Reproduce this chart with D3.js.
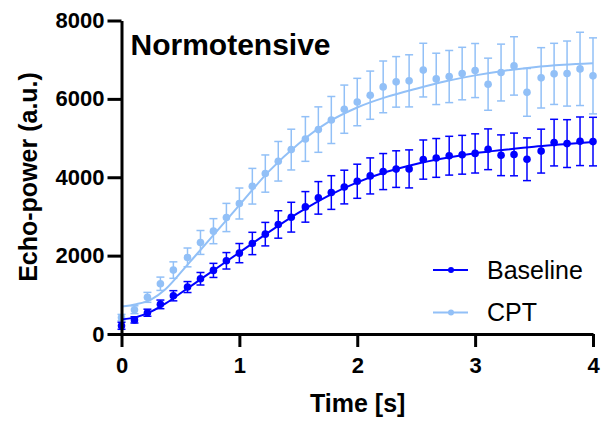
<!DOCTYPE html>
<html>
<head>
<meta charset="utf-8">
<script src="https://cdn.jsdelivr.net/npm/d3@7"></script>
<style>
    body { margin: 0; background: #fff; }
    text { font-family: "Liberation Sans", Arial, sans-serif; }
</style>
</head>
<body>
<div id="chart"></div>
<script>
// sample times (s)
const time = [0, 0.11, 0.22, 0.33, 0.44, 0.56, 0.67, 0.78, 0.89, 1.0,
    1.11, 1.22, 1.33, 1.44, 1.56, 1.67, 1.78, 1.89, 2.0, 2.11,
    2.22, 2.33, 2.44, 2.56, 2.67, 2.78, 2.89, 3.0, 3.11, 3.22,
    3.33, 3.44, 3.56, 3.67, 3.78, 3.89, 4.0];

const baselineMean = [210, 360, 543, 756, 976, 1198, 1410, 1623, 1868, 2064,
    2310, 2548, 2795, 2981, 3244, 3474, 3610, 3750, 3898, 4034,
    4145, 4208, 4213, 4451, 4493, 4550, 4574, 4608, 4714, 4561,
    4582, 4459, 4667, 4884, 4859, 4918, 4910];
const baselineErr = [90, 80, 90, 110, 130, 140, 160, 180, 210, 245,
    285, 300, 350, 380, 390, 415, 430, 430, 435, 460,
    460, 467, 485, 500, 495, 495, 495, 500, 520, 520,
    545, 545, 560, 595, 610, 620, 620];

const cptMean = [420, 620, 935, 1282, 1631, 1954, 2336, 2624, 2973, 3330,
    3771, 4094, 4408, 4706, 4976, 5216, 5461, 5737, 5919, 6094,
    6306, 6434, 6460, 6734, 6510, 6570, 6646, 6723, 6374, 6672,
    6841, 6166, 6537, 6638, 6646, 6765, 6587];
const cptErr = [80, 100, 127, 170, 210, 240, 305, 320, 360, 395,
    455, 475, 505, 520, 570, 580, 600, 615, 605, 615,
    660, 645, 665, 685, 655, 665, 670, 690, 665, 725,
    745, 610, 770, 780, 830, 935, 970];

// fitted curves
const fitTime = [0, 0.125, 0.25, 0.375, 0.5, 0.625, 0.75, 1.0, 1.25, 1.5,
    1.75, 2.0, 2.25, 2.5, 2.75, 3.0, 3.25, 3.5, 3.75, 4.0];
const baselineFit = [370, 430, 570, 780, 1040, 1300, 1560, 2080, 2600, 3090,
    3520, 3870, 4140, 4340, 4490, 4610, 4700, 4780, 4840, 4900];
const cptFit = [700, 760, 880, 1150, 1560, 1990, 2420, 3290, 4150, 4850,
    5400, 5780, 6050, 6260, 6450, 6600, 6720, 6810, 6870, 6910];

const xTicks = [0, 1, 2, 3, 4];
const yTicks = [0, 2000, 4000, 6000, 8000];

const width = 603, height = 427;
const dark = "#0000ff", light = "#92c0f7";

const svg = d3.select("#chart").append("svg").attr("width", width).attr("height", height);

const x = d3.scaleLinear().domain([0, 4]).range([121.5, 593]);
const y = d3.scaleLinear().domain([0, 8000]).range([334, 20.5]);

function drawSeries(mean, err, fit, color) {
    const g = svg.append("g");
    const pts = time.map((t, i) => ({ t: t, m: mean[i], e: err[i] }));

    const eb = g.selectAll(".eb").data(pts).join("g")
        .attr("stroke", color).attr("stroke-width", 1.5);
    eb.append("line")
        .attr("x1", d => x(d.t)).attr("x2", d => x(d.t))
        .attr("y1", d => y(d.m - d.e)).attr("y2", d => y(d.m + d.e));
    eb.append("line")
        .attr("x1", d => x(d.t) - 4).attr("x2", d => x(d.t) + 4)
        .attr("y1", d => y(d.m + d.e)).attr("y2", d => y(d.m + d.e));
    eb.append("line")
        .attr("x1", d => x(d.t) - 4).attr("x2", d => x(d.t) + 4)
        .attr("y1", d => y(d.m - d.e)).attr("y2", d => y(d.m - d.e));

    const line = d3.line()
        .x((d, i) => x(fitTime[i]))
        .y(d => y(d))
        .curve(d3.curveMonotoneX);
    g.append("path").datum(fit)
        .attr("d", line)
        .attr("fill", "none")
        .attr("stroke", color)
        .attr("stroke-width", 2);

    g.selectAll("circle").data(pts).join("circle")
        .attr("cx", d => x(d.t))
        .attr("cy", d => y(d.m))
        .attr("r", 3.8)
        .attr("fill", color);
}

drawSeries(cptMean, cptErr, cptFit, light);
drawSeries(baselineMean, baselineErr, baselineFit, dark);

// axes
const xAxis = svg.append("g")
    .attr("transform", "translate(0,334)")
    .call(d3.axisBottom(x).tickValues(xTicks).tickFormat(d3.format("d"))
        .tickSize(13).tickSizeOuter(0).tickPadding(10));
const yAxis = svg.append("g")
    .attr("transform", "translate(121.5,0)")
    .call(d3.axisLeft(y).tickValues(yTicks).tickFormat(d3.format("d"))
        .tickSize(14).tickSizeOuter(0).tickPadding(3));

[xAxis, yAxis].forEach(a => {
    a.select(".domain").attr("stroke", "#000").attr("stroke-width", 3);
    a.selectAll(".tick line").attr("stroke", "#000").attr("stroke-width", 3);
    a.selectAll(".tick text")
        .attr("fill", "#000")
        .style("font-size", "22px")
        .style("font-weight", "bold")
        .style("font-family", "'Liberation Sans', Arial, sans-serif");
});

svg.append("text")
    .attr("x", 357.7).attr("y", 411.5)
    .attr("text-anchor", "middle")
    .style("font-size", "25px").style("font-weight", "bold")
    .text("Time [s]");

svg.append("text")
    .attr("transform", "translate(37,177) rotate(-90)")
    .attr("text-anchor", "middle")
    .style("font-size", "25px").style("font-weight", "bold")
    .text("Echo-power (a.u.)");

svg.append("text")
    .attr("x", 130.5).attr("y", 54.5)
    .style("font-size", "30px").style("font-weight", "bold")
    .text("Normotensive");

// legend
const legendItems = [
    { name: "Baseline", color: dark, y: 270 },
    { name: "CPT", color: light, y: 312.5 }
];
const lg = svg.append("g").selectAll("g").data(legendItems).join("g");
lg.append("line")
    .attr("x1", 433).attr("x2", 468)
    .attr("y1", d => d.y).attr("y2", d => d.y)
    .attr("stroke", d => d.color).attr("stroke-width", 2);
lg.append("circle")
    .attr("cx", 451).attr("cy", d => d.y).attr("r", 3)
    .attr("fill", d => d.color);
lg.append("text")
    .attr("x", 487).attr("y", d => d.y + 8.5)
    .style("font-size", "25px")
    .text(d => d.name);
</script>
</body>
</html>
